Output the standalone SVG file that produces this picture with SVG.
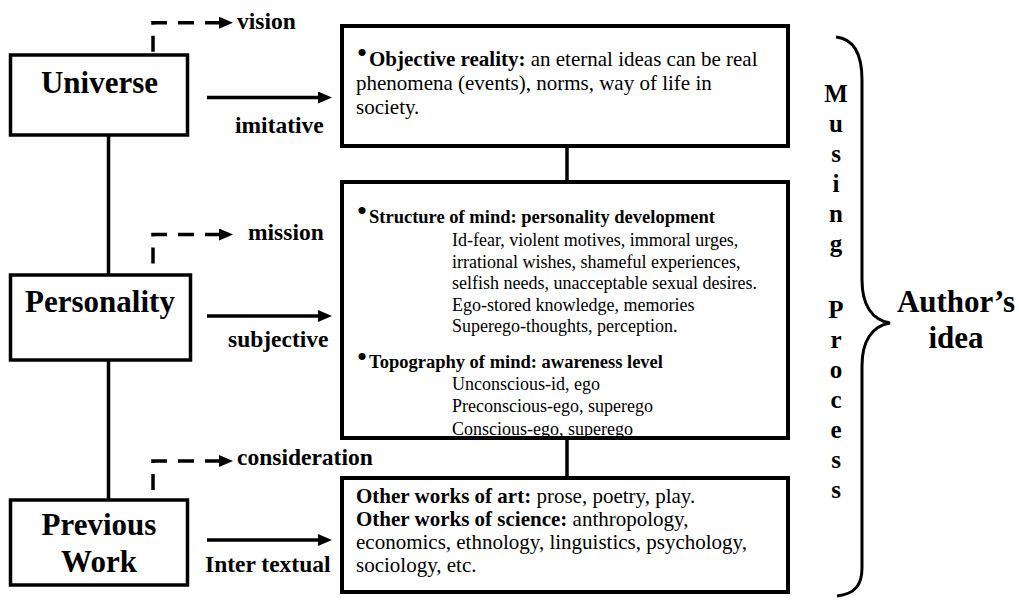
<svg xmlns="http://www.w3.org/2000/svg" width="1019" height="607" viewBox="0 0 1019 607">
<style>
  .box { fill: #fff; stroke: #000; stroke-width: 3.5; }
  .rbox { fill: none; stroke: #000; stroke-width: 4; }
  .big { font-family: "Liberation Serif", "Times New Roman", serif; font-weight: bold; font-size: 31px; fill: #000; text-anchor: middle; }
  .lbl { font-family: "Liberation Serif", "Times New Roman", serif; font-weight: bold; font-size: 23.5px; fill: #000; }
  .t21 { font-family: "Liberation Serif", "Times New Roman", serif; font-size: 21px; fill: #000; }
  .t18 { font-family: "Liberation Serif", "Times New Roman", serif; font-size: 18px; fill: #000; }
  .h18 { font-family: "Liberation Serif", "Times New Roman", serif; font-size: 18.5px; font-weight: bold; fill: #000; }
  .bul { font-family: "Liberation Serif", "Times New Roman", serif; font-size: 30px; fill: #000; text-anchor: middle; }
  .b { font-weight: bold; }
  .ml { font-family: "Liberation Serif", "Times New Roman", serif; font-weight: bold; font-size: 25px; fill: #000; text-anchor: middle; }
  .solid { fill: none; stroke: #000; stroke-width: 3.5; }
  .dash { fill: none; stroke: #000; stroke-width: 3.5; stroke-dasharray: 16 11; }
  .brace { fill: none; stroke: #000; stroke-width: 3; }
</style>
<defs>
  <marker id="ah" markerUnits="userSpaceOnUse" markerWidth="14" markerHeight="12" refX="2" refY="6" orient="auto">
    <path d="M0,0 L14,6 L0,12 z" fill="#000"/>
  </marker>
  <marker id="ahs" markerUnits="userSpaceOnUse" markerWidth="14" markerHeight="12" refX="2" refY="6" orient="auto-start-reverse">
    <path d="M0,0 L14,6 L0,12 z" fill="#000"/>
  </marker>
  <clipPath id="clipMind">
    <rect x="342" y="182" width="446" height="254"/>
  </clipPath>
</defs>

<g id="connectors">
  <line class="solid" x1="108.5" y1="135" x2="108.5" y2="275"/>
  <line class="solid" x1="108.5" y1="360" x2="108.5" y2="500"/>
  <line class="solid" x1="567" y1="146" x2="567" y2="182"/>
  <line class="solid" x1="567" y1="438" x2="567" y2="478"/>
  <line class="solid" x1="207" y1="97.5" x2="320" y2="97.5" marker-end="url(#ah)"/>
  <line class="solid" x1="207" y1="316" x2="320" y2="316" marker-end="url(#ah)"/>
  <line class="solid" x1="207" y1="540" x2="320" y2="540" marker-end="url(#ah)"/>
  <path class="dash" d="M221,22.7 H153 V55" marker-start="url(#ahs)"/>
  <path class="dash" d="M221,234.5 H153 V275" marker-start="url(#ahs)"/>
  <path class="dash" d="M221,461 H153 V500" marker-start="url(#ahs)"/>
  <text class="lbl" x="237" y="28.5">vision</text>
  <text class="lbl" x="235" y="133">imitative</text>
  <text class="lbl" x="248" y="240">mission</text>
  <text class="lbl" x="228" y="347">subjective</text>
  <text class="lbl" x="237" y="465">consideration</text>
  <text class="lbl" x="205" y="572">Inter textual</text>
</g>

<g id="universe">
  <rect class="box" x="10.5" y="55" width="177" height="80"/>
  <text class="big" x="99.5" y="92.5">Universe</text>
</g>

<g id="personality">
  <rect class="box" x="10.5" y="275" width="180" height="85"/>
  <text class="big" x="100" y="312">Personality</text>
</g>

<g id="previous-work">
  <rect class="box" x="10.5" y="500" width="177" height="85"/>
  <text class="big" x="99" y="535">Previous</text>
  <text class="big" x="99" y="572">Work</text>
</g>

<g id="objective-reality">
  <rect class="rbox" x="342" y="26" width="446" height="120"/>
  <text class="bul" x="362" y="63">•</text>
  <text class="t21" x="369" y="66"><tspan class="b">Objective reality:</tspan> an eternal ideas can be real</text>
  <text class="t21" x="356" y="90">phenomena (events), norms, way of life in</text>
  <text class="t21" x="356" y="114">society.</text>
</g>

<g id="mind">
  <g clip-path="url(#clipMind)">
    <text class="bul" x="362" y="220.5">•</text>
    <text class="h18" x="369" y="223">Structure of mind: personality development</text>
    <text class="t18" x="452" y="246">Id-fear, violent motives, immoral urges,</text>
    <text class="t18" x="452" y="267.5">irrational wishes, shameful experiences,</text>
    <text class="t18" x="452" y="289">selfish needs, unacceptable sexual desires.</text>
    <text class="t18" x="452" y="310.5">Ego-stored knowledge, memories</text>
    <text class="t18" x="452" y="332">Superego-thoughts, perception.</text>
    <text class="bul" x="362" y="366.5">•</text>
    <text class="h18" x="369" y="368">Topography of mind: awareness level</text>
    <text class="t18" x="452" y="390">Unconscious-id, ego</text>
    <text class="t18" x="452" y="412">Preconscious-ego, superego</text>
    <text class="t18" x="452" y="435">Conscious-ego, superego</text>
  </g>
  <rect class="rbox" x="342" y="182" width="446" height="256"/>
</g>

<g id="other-works">
  <rect class="rbox" x="342" y="478" width="446" height="114"/>
  <text class="t21" x="356" y="503"><tspan class="b">Other works of art:</tspan> prose, poetry, play.</text>
  <text class="t21" x="356" y="526"><tspan class="b">Other works of science:</tspan> anthropology,</text>
  <text class="t21" x="356" y="549">economics, ethnology, linguistics, psychology,</text>
  <text class="t21" x="356" y="572">sociology, etc.</text>
</g>

<g id="musing-process">
  <text class="ml" x="836" y="102">M</text>
  <text class="ml" x="836" y="132">u</text>
  <text class="ml" x="836" y="162">s</text>
  <text class="ml" x="836" y="192">i</text>
  <text class="ml" x="836" y="222">n</text>
  <text class="ml" x="836" y="252">g</text>
  <text class="ml" x="836" y="318">P</text>
  <text class="ml" x="836" y="348">r</text>
  <text class="ml" x="836" y="378">o</text>
  <text class="ml" x="836" y="408">c</text>
  <text class="ml" x="836" y="438">e</text>
  <text class="ml" x="836" y="468">s</text>
  <text class="ml" x="836" y="498">s</text>
</g>

<g id="brace">
  <path class="brace" d="M836,37 C855,39 862,55 862,80 L862,280 C862,305 872,320 890,323 C872,326 862,341 862,366 L862,568 C862,585 855,594 837,596"/>
</g>

<g id="authors-idea">
  <text class="big" x="956" y="312">Author’s</text>
  <text class="big" x="956" y="348">idea</text>
</g>
</svg>
